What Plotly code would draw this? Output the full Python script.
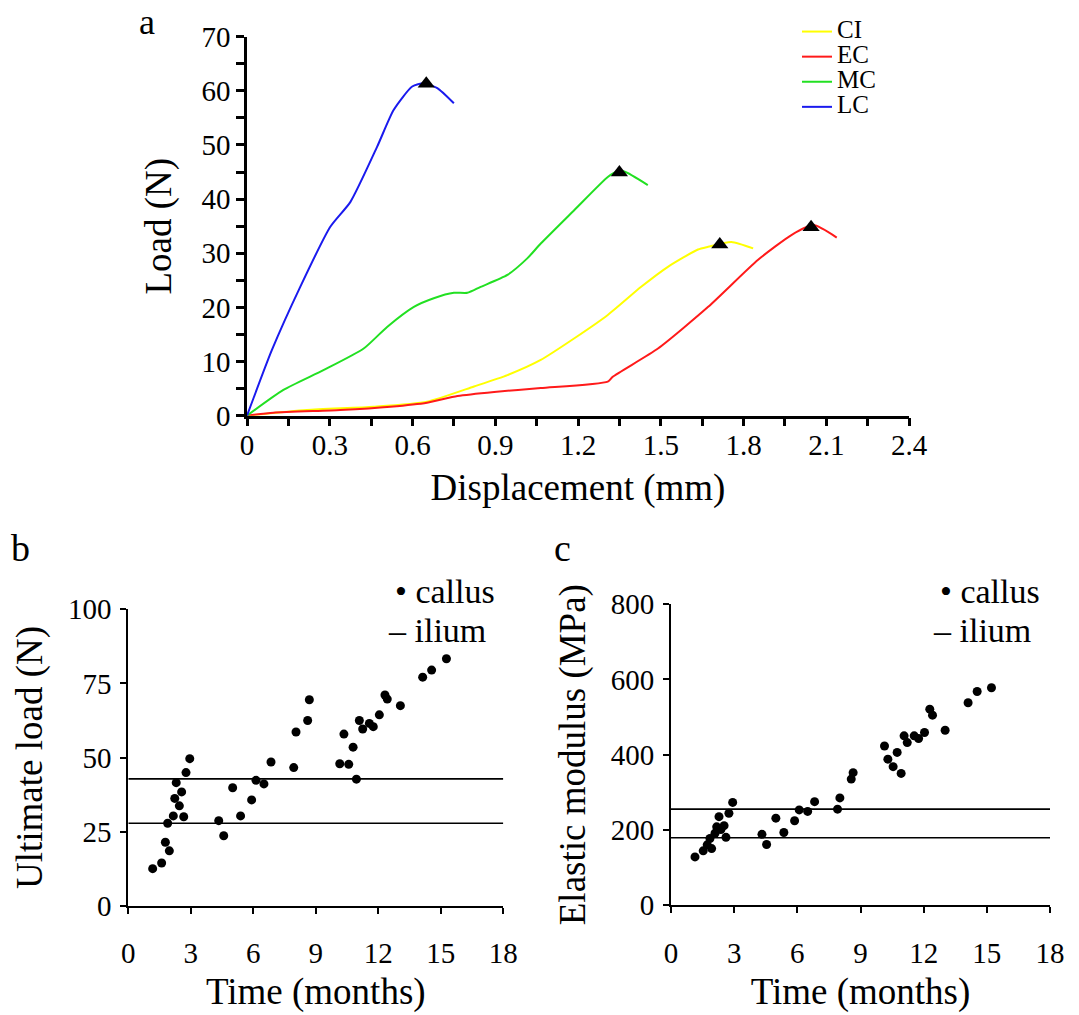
import plotly.graph_objects as go

# ---------------- Panel a: load-displacement curves ----------------
ci_x = [0.0, 0.217, 0.459, 0.653, 0.823, 0.944, 1.065, 1.187, 1.308, 1.429, 1.526, 1.635, 1.672, 1.756, 1.835]
ci_y = [0.0, 1.05, 1.66, 2.6, 5.4, 7.5, 10.3, 14.3, 18.6, 23.8, 27.5, 30.7, 31.2, 32.1, 30.9]

ec_x = [0.0, 0.096, 0.338, 0.52, 0.653, 0.763, 0.896, 1.065, 1.308, 1.326, 1.49, 1.672, 1.853, 1.975, 2.053, 2.138]
ec_y = [0.0, 0.55, 1.05, 1.66, 2.4, 3.64, 4.4, 5.1, 6.3, 7.2, 12.4, 20.1, 28.8, 33.4, 35.2, 32.9]

mc_x = [0.0, 0.132, 0.277, 0.423, 0.508, 0.605, 0.677, 0.750, 0.799, 0.847, 0.944, 1.017, 1.065, 1.187, 1.308, 1.342, 1.368, 1.453]
mc_y = [0.0, 4.75, 8.4, 12.4, 16.4, 20.1, 21.7, 22.7, 22.7, 23.8, 26.0, 29.1, 31.8, 38.0, 44.1, 45.1, 45.1, 42.6]

lc_x = [0.0, 0.090, 0.193, 0.302, 0.375, 0.472, 0.532, 0.599, 0.641, 0.690, 0.750]
lc_y = [0.0, 12.1, 23.8, 34.9, 39.5, 49.7, 56.5, 60.8, 61.4, 60.5, 57.7]

peak_x = [0.65, 1.35, 1.714, 2.045]
peak_y = [61.3, 44.9, 31.6, 34.8]

# ---------------- Panel b: ultimate load vs time ----------------
time_b = [1.17, 1.60, 1.78, 1.97, 1.89, 2.16, 2.23, 2.30, 2.45, 2.56, 2.66, 2.77, 2.95,
          4.34, 4.58, 5.01, 5.39, 5.92, 6.13, 6.51, 6.85, 7.94, 8.05, 8.61, 8.69,
          10.15, 10.35, 10.58, 10.79, 10.95, 11.09, 11.25, 11.57, 11.76, 12.05, 12.32,
          12.43, 13.06, 14.13, 14.56, 15.27]
load_b = [12.5, 14.4, 21.4, 18.5, 27.8, 30.3, 36.2, 41.5, 33.7, 38.4, 30.0, 44.9, 49.6,
          28.7, 23.6, 39.8, 30.3, 35.7, 42.3, 41.1, 48.5, 46.6, 58.6, 62.5, 69.5,
          47.9, 57.9, 47.7, 53.5, 42.7, 62.5, 59.6, 61.5, 60.4, 64.4, 71.1,
          69.7, 67.5, 77.1, 79.5, 83.3]
ilium_b = [42.8, 27.8]

# ---------------- Panel c: elastic modulus vs time ----------------
time_c = [1.14, 1.53, 1.72, 1.93, 1.85, 2.09, 2.17, 2.28, 2.37, 2.52, 2.61, 2.75, 2.93,
          4.32, 4.54, 4.98, 5.36, 5.87, 6.09, 6.49, 6.82, 7.91, 8.02, 8.56, 8.65,
          10.14, 10.30, 10.55, 10.74, 10.93, 11.07, 11.22, 11.55, 11.76, 12.04, 12.29,
          12.42, 13.02, 14.11, 14.54, 15.22]
mod_c = [128, 144, 160, 150, 177, 191, 208, 235, 201, 211, 180, 244, 273,
         188, 161, 231, 193, 224, 253, 249, 275, 255, 285, 335, 352,
         423, 388, 368, 406, 350, 450, 432, 450, 443, 459, 521,
         505, 465, 538, 568, 578]
ilium_c = [255, 179]

time_range = [0, 18]

FONT = "Liberation Serif, Times New Roman, serif"
W, H = 1079, 1015

fig = go.Figure()

curves = [("CI", ci_x, ci_y, "#ffff00"),
          ("EC", ec_x, ec_y, "#ff1a1a"),
          ("MC", mc_x, mc_y, "#22e022"),
          ("LC", lc_x, lc_y, "#1a1aee")]
for name, xs, ys, col in curves:
    fig.add_trace(go.Scatter(x=xs, y=ys, mode="lines",
                             name='<span style="font-size:25px">%s</span>' % name,
                             line=dict(color=col, width=2, shape="spline", smoothing=0.6),
                             xaxis="x", yaxis="y", legend="legend"))
fig.add_trace(go.Scatter(x=peak_x, y=peak_y, mode="markers", showlegend=False,
                         marker=dict(symbol="triangle-up", size=15, color="black"),
                         xaxis="x", yaxis="y"))

# Panel b
fig.add_trace(go.Scatter(x=time_b, y=load_b, mode="markers", showlegend=False,
                         marker=dict(size=9, color="black"), xaxis="x2", yaxis="y2"))
for v in ilium_b:
    fig.add_trace(go.Scatter(x=time_range, y=[v, v], mode="lines", showlegend=False,
                             line=dict(color="black", width=1.6), xaxis="x2", yaxis="y2"))
# Panel c
fig.add_trace(go.Scatter(x=time_c, y=mod_c, mode="markers", showlegend=False,
                         marker=dict(size=9, color="black"), xaxis="x3", yaxis="y3"))
for v in ilium_c:
    fig.add_trace(go.Scatter(x=time_range, y=[v, v], mode="lines", showlegend=False,
                             line=dict(color="black", width=1.6), xaxis="x3", yaxis="y3"))

def px_x(p):
    return p / W

def px_y(p):
    return 1 - p / H

tickfont = dict(family=FONT, size=29, color="black")
titlefont = dict(family=FONT, size=37, color="black")

common_a = dict(showline=True, linecolor="black", linewidth=2.5, ticks="outside",
                ticklen=8, tickwidth=2.5, tickcolor="black", showgrid=False,
                zeroline=False, tickfont=tickfont, fixedrange=True, automargin=False)
common_bc = dict(showline=True, linecolor="black", linewidth=1.8, ticks="outside",
                 ticklen=6, tickwidth=1.8, tickcolor="black", showgrid=False,
                 zeroline=False, tickfont=tickfont, fixedrange=True, automargin=False)

fig.update_layout(
    width=W, height=H,
    margin=dict(l=0, r=0, t=0, b=0, autoexpand=False),
    paper_bgcolor="white", plot_bgcolor="white",
    font=dict(family=FONT, color="black"),
    xaxis=dict(domain=[px_x(247), px_x(909)], range=[0, 2.4], tick0=0, dtick=0.3,
               tickformat=".1~f", ticklabelstandoff=-6,
               minor=dict(dtick=0.15, ticks="outside", ticklen=8, tickwidth=2.5, tickcolor="black"),
               title=dict(text="Displacement (mm)", font=titlefont, standoff=14),
               anchor="y", **common_a),
    yaxis=dict(domain=[px_y(415.7), px_y(36.7)], range=[0, 70], dtick=10,
               minor=dict(dtick=5, ticks="outside", ticklen=8, tickwidth=2.5, tickcolor="black"),
               title=dict(text="Load (N)", font=titlefont, standoff=19),
               anchor="x", **common_a),
    xaxis2=dict(domain=[px_x(128.3), px_x(503.3)], range=[0, 18], dtick=3,
                ticklabelstandoff=15,
                title=dict(text="Time (months)", font=titlefont, standoff=10),
                anchor="y2", **common_bc),
    yaxis2=dict(domain=[px_y(905.7), px_y(609.3)], range=[0, 100], dtick=25,
                ticklabelstandoff=3,
                title=dict(text="Ultimate load (N)", font=titlefont, standoff=14),
                anchor="x2", **common_bc),
    xaxis3=dict(domain=[px_x(671), px_x(1050)], range=[0, 18], dtick=3,
                ticklabelstandoff=15,
                title=dict(text="Time (months)", font=titlefont, standoff=10),
                anchor="y3", **common_bc),
    yaxis3=dict(domain=[px_y(905), px_y(604.3)], range=[0, 800], dtick=200,
                ticklabelstandoff=3,
                title=dict(text="Elastic modulus (MPa)", font=titlefont, standoff=14),
                anchor="x3", **common_bc),
    legend=dict(x=px_x(797), y=px_y(14), xanchor="left", yanchor="top",
                font=dict(family=FONT, size=17, color="black"),
                bgcolor="rgba(0,0,0,0)", itemwidth=30, tracegroupgap=0),
    showlegend=True,
)

ann_font = dict(family=FONT, size=38, color="black")
leg_font = dict(family=FONT, size=34, color="black")

def ann(text, x, y, xanchor="center", yanchor="middle", font=ann_font):
    return dict(text=text, x=px_x(x), y=px_y(y), xref="paper", yref="paper",
                showarrow=False, xanchor=xanchor, yanchor=yanchor, font=font)

annotations = [
    ann("a", 147, 0, yanchor="top", font=dict(family=FONT, size=36, color="black")),
    ann("b", 20, 548),
    ann("c", 562, 548),
    ann("• callus", 393, 591, "left", font=leg_font),
    ann("– ilium", 386, 630, "left", font=leg_font),
    ann("• callus", 938, 591, "left", font=leg_font),
    ann("– ilium", 931, 630, "left", font=leg_font),
]
fig.update_layout(annotations=annotations)

fig.write_html("out.html", config={"displayModeBar": False},
               post_script="document.body.style.margin='0px';")
